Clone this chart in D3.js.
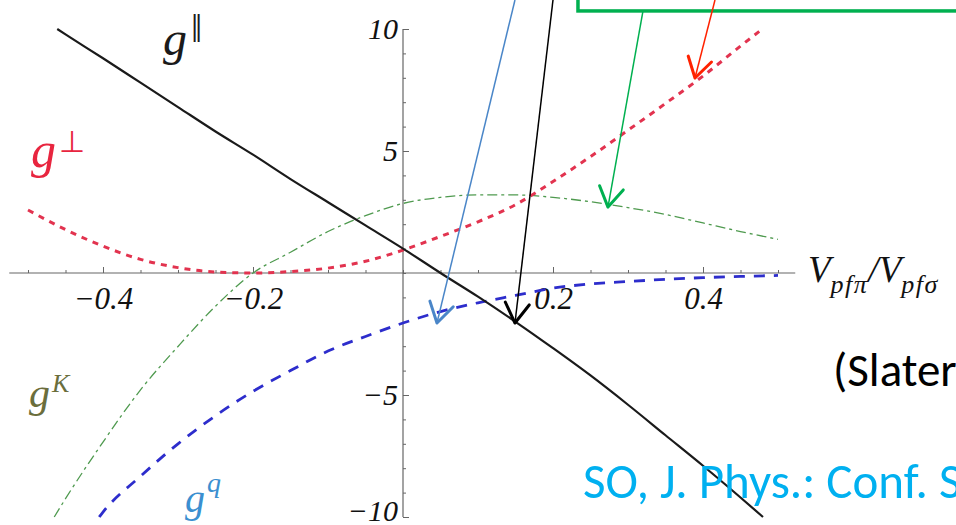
<!DOCTYPE html>
<html>
<head>
<meta charset="utf-8">
<script src="https://cdn.jsdelivr.net/npm/d3@7"></script>
<style>
  html, body { margin: 0; padding: 0; background: #fff; }
  svg { display: block; }
</style>
</head>
<body>
<svg id="chart" width="956" height="525"></svg>
<script>
// g-parallel (solid black)
const xPar = [-0.461,-0.45,-0.4,-0.35,-0.3,-0.25,-0.2,-0.15,-0.1,-0.05,0,0.05,0.1,0.15,0.2,0.25,0.3,0.35,0.4,0.45,0.48];
const gPar = [10,9.78,8.8,7.8,6.8,5.8,4.85,3.85,2.9,1.95,1.0,0.0,-0.97,-2.0,-3.08,-4.2,-5.4,-6.65,-7.9,-9.2,-10];
// g-perpendicular (red dotted)
const xPerp = [-0.5,-0.45,-0.4,-0.35,-0.3,-0.25,-0.2,-0.15,-0.1,-0.05,0,0.05,0.1,0.15,0.2,0.25,0.3,0.35,0.4,0.45,0.475];
const gPerp = [2.58,1.78,1.1,0.56,0.22,0.04,0.0,0.06,0.2,0.48,0.94,1.5,2.1,2.8,3.75,4.77,5.85,6.95,8.07,9.3,9.9];
// g-K (green dash-dot)
const xK = [-0.465,-0.45,-0.4,-0.35,-0.3,-0.25,-0.2,-0.15,-0.1,-0.05,0,0.05,0.1,0.15,0.2,0.25,0.3,0.35,0.4,0.45,0.5];
const gK = [-10,-9.25,-6.93,-4.79,-3.01,-1.36,0.0,0.85,1.7,2.35,2.85,3.1,3.2,3.2,3.1,2.92,2.68,2.4,2.05,1.7,1.38];
// g-q (blue dashed)
const xQ = [-0.405,-0.4,-0.35,-0.3,-0.25,-0.2,-0.15,-0.1,-0.05,0,0.05,0.1,0.15,0.2,0.25,0.3,0.35,0.4,0.45,0.5];
const gQ = [-10,-9.8,-8.33,-7.0,-5.85,-4.85,-4.0,-3.2,-2.6,-2.05,-1.58,-1.22,-0.92,-0.62,-0.45,-0.35,-0.26,-0.19,-0.14,-0.1];

// tick values
const xMajorTicks = [-0.4, -0.2, 0.2, 0.4];
const xMinorTicks = d3.range(-10, 11).map(i => i * 0.05);
const yMajorTicks = [-10, -5, 5, 10];
const yMinorTicks = d3.range(-10, 11);

// annotation arrows: start and tip in data coordinates
const arrowStart = [[0.1493, 11.19], [0.2, 11.19], [0.32, 10.74], [0.416, 11.19]];
const arrowTip   = [[0.0453, -2.05], [0.1493, -2.05], [0.2733, 2.70], [0.3893, 7.99]];
const arrowColor = ["#4a86c8", "#000000", "#00b050", "#ff2200"];

const svg = d3.select("#chart");
const x = d3.scaleLinear().domain([-0.5, 0.5]).range([28, 778]);
const y = d3.scaleLinear().domain([-10, 10]).range([517, 29]);

const serif = "'Liberation Serif', 'Times New Roman', serif";

// axes through the origin
const xAxisG = svg.append("g").attr("transform", `translate(0,${y(0)})`);
xAxisG.call(d3.axisBottom(x).tickValues(xMinorTicks).tickSize(-3).tickFormat(""));
xAxisG.call(g => g.select(".domain").remove());
const xMaj = svg.append("g").attr("transform", `translate(0,${y(0)})`)
  .call(d3.axisBottom(x).tickValues(xMajorTicks).tickSize(-6).tickPadding(14)
    .tickFormat(d => d3.format(".1f")(d).replace("-", "\u2212")));
xMaj.select(".domain").remove();
xMaj.selectAll("text").attr("font-family", serif).attr("font-style", "italic")
  .attr("font-size", 31).attr("fill", "#111");
svg.append("line").attr("x1", x(-0.525)).attr("x2", x(0.523))
  .attr("y1", y(0)).attr("y2", y(0)).attr("stroke", "#666").attr("stroke-width", 1.2);

const yMinG = svg.append("g").attr("transform", `translate(${x(0)},0)`)
  .call(d3.axisLeft(y).tickValues(yMinorTicks).tickSize(-3).tickFormat(""));
yMinG.select(".domain").remove();
const yMaj = svg.append("g").attr("transform", `translate(${x(0)},0)`)
  .call(d3.axisLeft(y).tickValues(yMajorTicks).tickSize(-6).tickPadding(5)
    .tickFormat(d => String(d).replace("-", "\u2212")));
yMaj.select(".domain").remove();
yMaj.selectAll("text").attr("font-family", serif).attr("font-style", "italic")
  .attr("font-size", 30).attr("fill", "#111");
// keep the bottom label inside the frame
yMaj.selectAll("text").filter(d => d === -10).attr("dy", "0.1em");
svg.append("line").attr("x1", x(0)).attr("x2", x(0))
  .attr("y1", y(10)).attr("y2", y(-10)).attr("stroke", "#666").attr("stroke-width", 1.2);
svg.selectAll(".tick line").attr("stroke", "#666");

// axis title
const title = svg.append("text").attr("x", 808).attr("y", 282)
  .attr("font-family", serif).attr("font-style", "italic").attr("font-size", 37).attr("fill", "#111");
title.append("tspan").text("V");
title.append("tspan").attr("dy", 11).attr("font-size", 26).attr("letter-spacing", 1.5).text("pf\u03c0");
title.append("tspan").attr("dy", -11).text("/V");
title.append("tspan").attr("dy", 11).attr("font-size", 26).attr("letter-spacing", 1.5).text("pf\u03c3");

// curves
const line = d3.line().x(d => x(d[0])).y(d => y(d[1])).curve(d3.curveMonotoneX);
const series = [
  { xs: xK,    ys: gK,    color: "#4f9a4f", width: 1.3, dash: "10,4,3,4" },
  { xs: xQ,    ys: gQ,    color: "#2d2dcc", width: 2.8, dash: "11,9" },
  { xs: xPerp, ys: gPerp, color: "#e2334f", width: 3,   dash: "6,6" },
  { xs: xPar,  ys: gPar,  color: "#1a1a1a", width: 2.2, dash: null }
];
series.forEach(s => {
  svg.append("path").datum(s.xs.map((v, i) => [v, s.ys[i]]))
    .attr("d", line).attr("fill", "none")
    .attr("stroke", s.color).attr("stroke-width", s.width)
    .attr("stroke-dasharray", s.dash);
});

// curve labels
function gLabel(px, py, size, color, sup, supDx, supDy, supSize, supItalic) {
  const t = svg.append("text").attr("x", px).attr("y", py)
    .attr("font-family", serif).attr("font-size", size).attr("fill", color);
  t.append("tspan").attr("font-style", "italic").text("g");
  t.append("tspan").attr("dx", supDx).attr("dy", supDy).attr("font-size", supSize)
    .attr("font-style", supItalic ? "italic" : "normal").text(sup);
}
gLabel(163, 55, 48, "#1a1a1a", "\u2016", 4, -13, 40, false);
gLabel(31, 167, 50, "#e8253f", "\u22a5", 3, -15, 30, false);
gLabel(29, 407, 42, "#6b6e3c", "K", 2, -15, 26, true);
gLabel(185, 512, 40, "#3b8fd0", "q", 2, -20, 28, true);

// slide annotation: green frame and pointer arrows
svg.append("rect").attr("x", x(0.2333)).attr("y", -60)
  .attr("width", 500).attr("height", y(10.74) + 60)
  .attr("fill", "none").attr("stroke", "#00b050").attr("stroke-width", 3.5);

arrowStart.forEach((s, i) => {
  const x0 = x(s[0]), y0 = y(s[1]);
  const x1 = x(arrowTip[i][0]), y1 = y(arrowTip[i][1]);
  svg.append("line").attr("x1", x0).attr("y1", y0).attr("x2", x1).attr("y2", y1)
    .attr("stroke", arrowColor[i]).attr("stroke-width", 1.5);
  const ang = Math.atan2(y0 - y1, x0 - x1);
  const L = 23, a = 0.55;
  const p1 = [x1 + L * Math.cos(ang + a), y1 + L * Math.sin(ang + a)];
  const p2 = [x1 + L * Math.cos(ang - a), y1 + L * Math.sin(ang - a)];
  svg.append("path").attr("d", `M${p1}L${x1},${y1}L${p2}`)
    .attr("fill", "none").attr("stroke", arrowColor[i]).attr("stroke-width", 3)
    .attr("stroke-linecap", "round").attr("stroke-linejoin", "round");
});

// slide text
const sans = "Carlito, Calibri, Lato, 'Open Sans', sans-serif";
svg.append("text").attr("x", 833).attr("y", 386).attr("font-family", sans)
  .attr("font-size", 47).attr("fill", "#000").text("(Slater");
svg.append("text").attr("x", 583).attr("y", 498).attr("font-family", sans)
  .attr("font-size", 49).attr("fill", "#00b0f0").text("SO, J. Phys.: Conf. S");
</script>
</body>
</html>
